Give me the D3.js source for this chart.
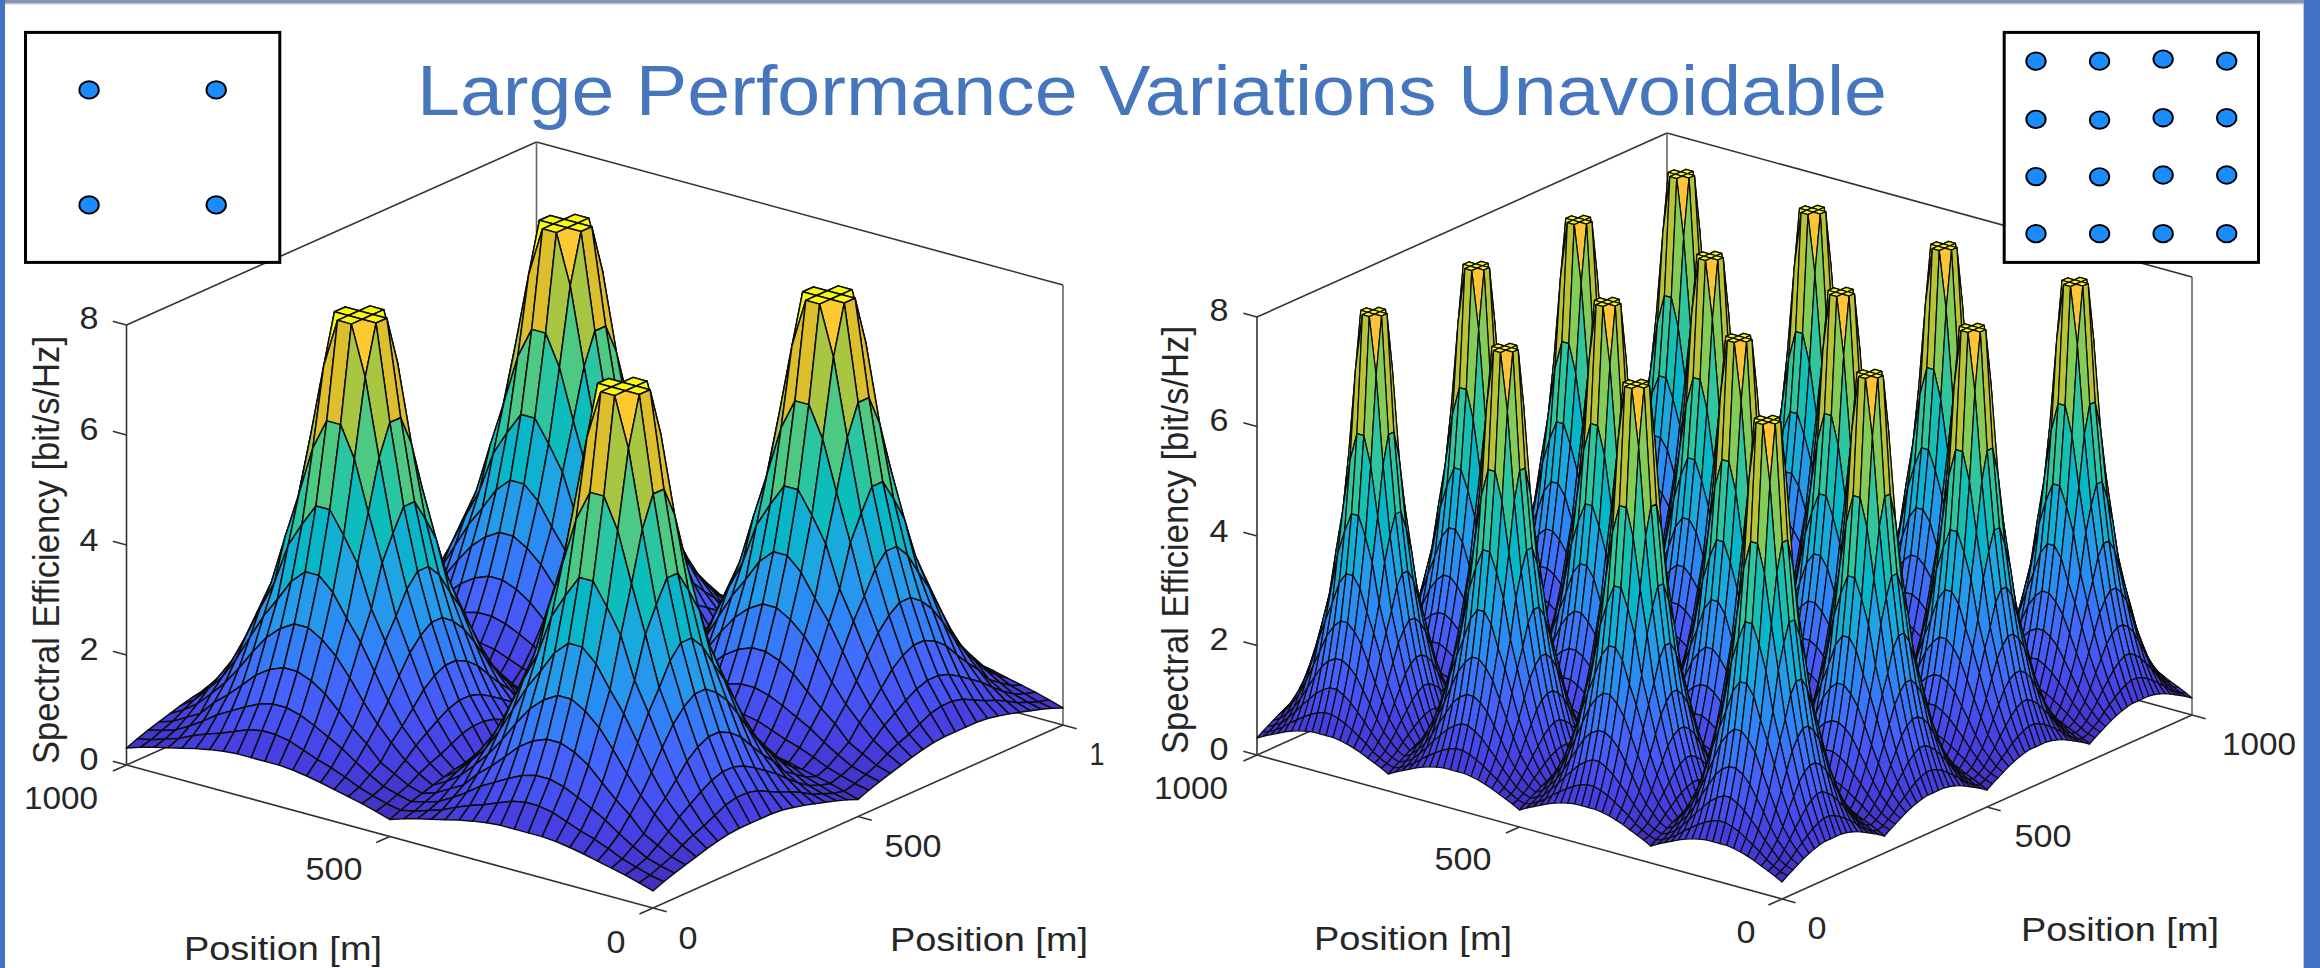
<!DOCTYPE html>
<html>
<head>
<meta charset="utf-8">
<script src="https://cdn.jsdelivr.net/npm/d3@7"></script>
<style>
  html, body { margin: 0; padding: 0; background: #fff; }
  svg { display: block; }
  text { font-family: "Liberation Sans", Arial, sans-serif; fill: #262626; }
</style>
</head>
<body>
<svg id="chart" width="2320" height="968"></svg>
<script>
// Values. Rows/columns run from the access point outwards
// in half-cell steps (0.5, 1.5 ... 9.5 cells). Every access point cell is
// mirrored from this one quadrant, the picture is symmetric that way.
const quadrant4 = [
  [8.00, 8.00, 6.26, 4.80, 3.69, 2.83, 2.12, 1.55, 1.15, 0.75],
  [8.00, 7.10, 5.70, 4.40, 3.45, 2.68, 2.02, 1.48, 1.10, 0.75],
  [6.26, 5.70, 4.80, 3.95, 3.05, 2.45, 1.85, 1.36, 1.00, 0.73],
  [4.80, 4.40, 3.95, 3.20, 2.68, 2.12, 1.60, 1.22, 0.90, 0.69],
  [3.69, 3.45, 3.05, 2.68, 2.22, 1.75, 1.36, 1.08, 0.82, 0.64],
  [2.83, 2.68, 2.45, 2.12, 1.75, 1.42, 1.15, 0.90, 0.72, 0.58],
  [2.12, 2.02, 1.85, 1.60, 1.36, 1.15, 0.88, 0.74, 0.60, 0.52],
  [1.55, 1.48, 1.36, 1.22, 1.08, 0.90, 0.74, 0.60, 0.52, 0.46],
  [1.15, 1.10, 1.00, 0.90, 0.82, 0.72, 0.60, 0.52, 0.44, 0.39],
  [0.75, 0.75, 0.73, 0.69, 0.64, 0.58, 0.52, 0.46, 0.39, 0.31]
];
const quadrant16 = [
  [8.00, 8.00, 5.87, 4.45, 3.40, 2.58, 1.94, 1.45, 1.04, 0.70],
  [8.00, 6.95, 5.35, 4.10, 3.20, 2.45, 1.86, 1.38, 1.00, 0.70],
  [5.87, 5.35, 4.45, 3.65, 2.80, 2.25, 1.72, 1.28, 0.94, 0.68],
  [4.45, 4.10, 3.65, 2.95, 2.45, 1.94, 1.50, 1.14, 0.86, 0.65],
  [3.40, 3.20, 2.80, 2.45, 2.05, 1.62, 1.28, 1.00, 0.77, 0.61],
  [2.58, 2.45, 2.25, 1.94, 1.62, 1.32, 1.04, 0.84, 0.68, 0.56],
  [1.94, 1.86, 1.72, 1.50, 1.28, 1.04, 0.84, 0.70, 0.57, 0.50],
  [1.45, 1.38, 1.28, 1.14, 1.00, 0.84, 0.70, 0.57, 0.49, 0.44],
  [1.04, 1.00, 0.94, 0.86, 0.77, 0.68, 0.57, 0.49, 0.42, 0.38],
  [0.70, 0.70, 0.68, 0.65, 0.61, 0.56, 0.50, 0.44, 0.38, 0.31]
];

const zTicks = [0, 2, 4, 6, 8];
const positionTicks = [0, 500, 1000];

// access points in the two small maps, metres
const apX4 = [250, 750, 250, 750];
const apY4 = [750, 750, 250, 250];
const apX16 = [125, 375, 625, 875, 125, 375, 625, 875, 125, 375, 625, 875, 125, 375, 625, 875];
const apY16 = [875, 875, 884, 875, 622, 619, 629, 629, 373, 372, 380, 380, 125, 125, 125, 125];

// parula, sampled
const parulaStops = ["#3e26a8", "#4741e5", "#4563fd", "#2d87f7", "#20a5e3", "#02bac3",
  "#37c897", "#81cc59", "#d1bf27", "#febd3c", "#fad427", "#f9fb0e"];

const svg = d3.select("#chart");
const color = d3.scaleLinear()
  .domain([0, 6, 12, 18, 24, 30, 36, 42, 48, 53, 58, 63].map(d => d / 63 * 8))
  .range(parulaStops)
  .clamp(true);

// page frame
svg.append("rect").attr("width", 2320).attr("height", 968).attr("fill", "#fff");
svg.append("rect").attr("width", 2320).attr("height", 3).attr("fill", "#8496bb");
svg.append("rect").attr("y", 3).attr("width", 2320).attr("height", 1.5).attr("fill", "#c8c8c8");
svg.append("rect").attr("width", 5).attr("height", 968).attr("fill", "#4472c4");
svg.append("rect").attr("x", 2304).attr("width", 16).attr("height", 968).attr("fill", "#4472c4");
svg.append("rect").attr("x", 2303).attr("y", 3).attr("width", 1).attr("height", 965).attr("fill", "#c8c8c8");

svg.append("text")
  .attr("x", 417).attr("y", 115)
  .attr("font-size", 71)
  .attr("textLength", 1470)
  .attr("lengthAdjust", "spacingAndGlyphs")
  .style("fill", "#4676bd")
  .text("Large Performance Variations Unavoidable");

function label(g, str, x, y, width, size) {
  g.append("text")
    .attr("x", x).attr("y", y)
    .attr("dy", "0.36em")
    .attr("text-anchor", "middle")
    .attr("font-size", size || 31)
    .attr("textLength", width)
    .attr("lengthAdjust", "spacingAndGlyphs")
    .text(str);
}

function drawPanel(cfg) {
  const g = svg.append("g");
  const cells = cfg.tiles * 19;
  const gridStep = 1000 / cells;

  // parallel projection, one scale per screen direction of each axis
  const uX = d3.scaleLinear([0, 1000], [0, cfg.left[0] - cfg.front[0]]);
  const uY = d3.scaleLinear([0, 1000], [0, cfg.left[1] - cfg.front[1]]);
  const vX = d3.scaleLinear([0, 1000], [0, cfg.right[0] - cfg.front[0]]);
  const vY = d3.scaleLinear([0, 1000], [0, cfg.right[1] - cfg.front[1]]);
  const zY = d3.scaleLinear([0, 8], [0, -cfg.zHeight]);
  const project = (u, v, z) => [
    cfg.front[0] + uX(u) + vX(v),
    cfg.front[1] + uY(u) + vY(v) + zY(z)
  ];
  const seg = (a, b, w, c) => g.append("line")
    .attr("x1", a[0]).attr("y1", a[1]).attr("x2", b[0]).attr("y2", b[1])
    .attr("stroke", c || "#333").attr("stroke-width", w || 1.6);

  // back of the box, the surface covers most of it
  seg(project(1000, 0, 0), project(1000, 0, 8));
  seg(project(1000, 0, 8), project(1000, 1000, 8));
  seg(project(1000, 1000, 8), project(0, 1000, 8));
  seg(project(1000, 1000, 0), project(1000, 1000, 8), 1.6, "#666");
  seg(project(0, 1000, 0), project(0, 1000, 8), 1.6, "#666");
  seg(project(1000, 0, 0), project(1000, 1000, 0));
  seg(project(1000, 1000, 0), project(0, 1000, 0));

  // folded grid index -> quadrant index
  const fold = i => {
    const p = i % 19;
    return p <= 9 ? 9 - p : p - 10;
  };
  const height = (i, j) => cfg.quadrant[fold(i)][fold(j)];

  // surface, back cells first. Flat shading from the lowest index corner
  const line = d3.line();
  for (let i = cells - 1; i >= 0; i--) {
    for (let j = cells - 1; j >= 0; j--) {
      const corners = [[i, j], [i + 1, j], [i + 1, j + 1], [i, j + 1]]
        .map(c => project(c[0] * gridStep, c[1] * gridStep, height(c[0], c[1])));
      g.append("path")
        .attr("d", line(corners) + "Z")
        .attr("fill", color(height(i, j)))
        .attr("stroke", "#0c0c0c")
        .attr("stroke-width", cfg.meshWidth)
        .attr("stroke-linejoin", "round");
    }
  }

  // front axes and ticks
  seg(project(1000, 0, 0), project(0, 0, 0));
  seg(project(0, 0, 0), project(0, 1000, 0));
  positionTicks.forEach(t => {
    seg(project(t, 0, 0), project(t, -33, 0));
    seg(project(0, t, 0), project(-26, t, 0));
  });
  zTicks.forEach(t => seg(project(1000, 0, t), project(1026, 0, t)));

  zTicks.forEach((t, i) => label(g, t, cfg.zLabelX, cfg.zLabelY[i], 19));
  cfg.texts.forEach(d => label(g, d[0], d[1], d[2], d[3], d[4]));

  g.append("text")
    .attr("transform", `translate(${cfg.titleX},${cfg.titleY}) rotate(-90)`)
    .attr("dy", "0.36em")
    .attr("text-anchor", "middle")
    .attr("font-size", 37)
    .attr("textLength", 428)
    .attr("lengthAdjust", "spacingAndGlyphs")
    .text("Spectral Efficiency [bit/s/Hz]");
}

drawPanel({
  quadrant: quadrant4, tiles: 2, meshWidth: 1.5,
  front: [653, 908], left: [126.5, 765], right: [1063, 725], zHeight: 440,
  zLabelX: 89, zLabelY: [759, 649, 540, 429, 318],
  titleX: 46, titleY: 550,
  texts: [
    ["1000", 61, 798, 74], ["500", 334, 869, 57], ["0", 616, 942, 19],
    ["0", 688, 938, 19], ["500", 913, 846, 57], ["1", 1097, 754, 15],
    ["Position [m]", 283, 948, 198, 33], ["Position [m]", 989, 939, 198, 33]
  ]
});

drawPanel({
  quadrant: quadrant16, tiles: 4, meshWidth: 1.25,
  front: [1782, 899], left: [1257, 755], right: [2192, 715], zHeight: 438,
  zLabelX: 1219, zLabelY: [749, 639, 531, 420, 310],
  titleX: 1175, titleY: 540,
  texts: [
    ["1000", 1191, 788, 74], ["500", 1463, 859, 57], ["0", 1746, 932, 19],
    ["0", 1817, 928, 19], ["500", 2043, 836, 57], ["1000", 2259, 744, 74],
    ["Position [m]", 1413, 938, 198, 33], ["Position [m]", 2120, 929, 198, 33]
  ]
});

// small maps of the access points, on top of the axes
function drawMap(x0, xs, ys) {
  const mapX = d3.scaleLinear([0, 1000], [x0, x0 + 254.3]);
  const mapY = d3.scaleLinear([0, 1000], [262.4, 32.4]);
  svg.append("rect")
    .attr("x", mapX(0)).attr("y", mapY(1000))
    .attr("width", mapX(1000) - mapX(0)).attr("height", mapY(0) - mapY(1000))
    .attr("fill", "#fff").attr("stroke", "#000").attr("stroke-width", 3);
  svg.selectAll(null)
    .data(xs)
    .enter().append("ellipse")
    .attr("cx", d => mapX(d))
    .attr("cy", (d, i) => mapY(ys[i]))
    .attr("rx", 9.7)
    .attr("ry", 8.7)
    .attr("fill", "#1a8cff")
    .attr("stroke", "#000")
    .attr("stroke-width", 1.9);
}
drawMap(25.5, apX4, apY4);
drawMap(2004.2, apX16, apY16);
</script>
</body>
</html>
